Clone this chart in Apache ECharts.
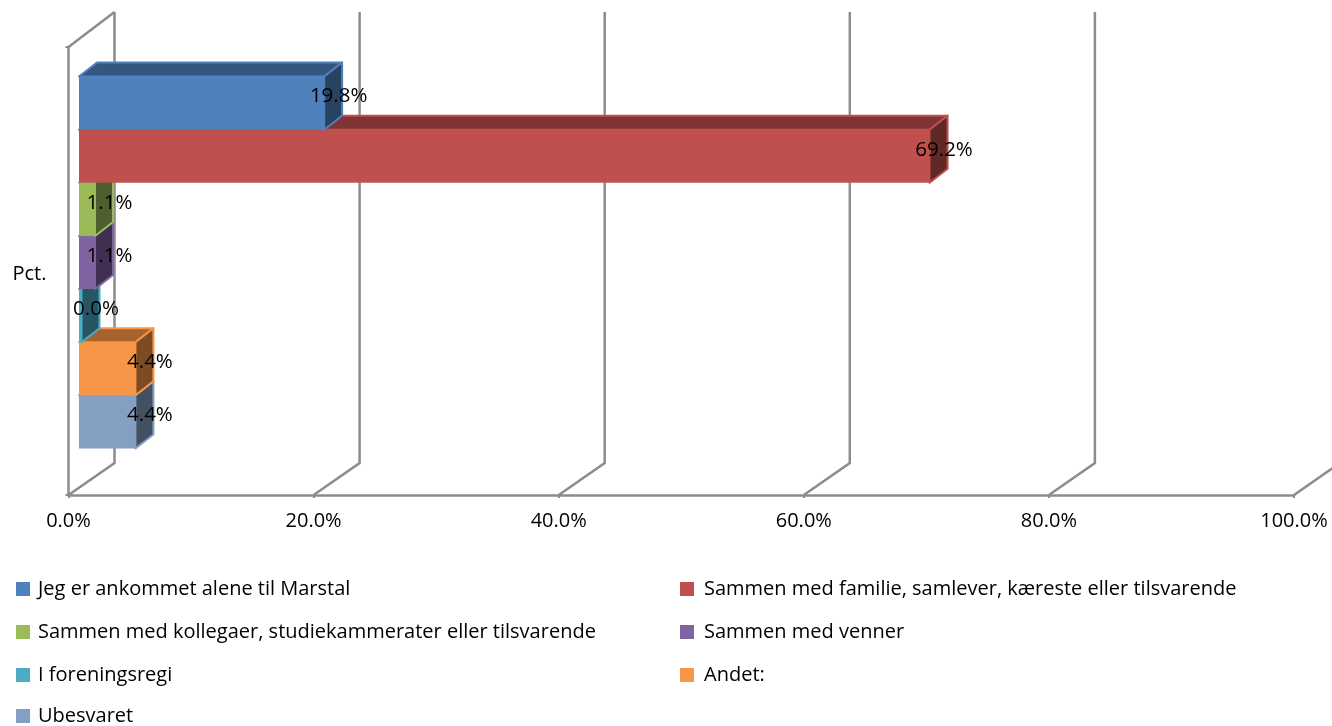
<!DOCTYPE html>
<html>
<head>
<meta charset="utf-8">
<title>Pct.</title>
<script src="https://cdn.jsdelivr.net/npm/echarts@6/dist/echarts.min.js"></script>
<style>
html,body{margin:0;padding:0;background:#fff}
#main{width:1332px;height:726px}
</style>
</head>
<body>
<div id="main"></div>
<script>
const categories = ['Pct.'];
const seriesNames = [
    'Jeg er ankommet alene til Marstal',
    'Sammen med familie, samlever, kæreste eller tilsvarende',
    'Sammen med kollegaer, studiekammerater eller tilsvarende',
    'Sammen med venner',
    'I foreningsregi',
    'Andet:',
    'Ubesvaret'
];
const seriesValues = [19.8, 69.2, 1.1, 1.1, 0.0, 4.4, 4.4];
const xTicks = [0, 20, 40, 60, 80, 100];

const frontColors = ['#4f81bd', '#c0504d', '#9bbb59', '#8064a2', '#4bacc6', '#f79646', '#849fc1'];
const topColors = ['#35577f', '#7f3533', '#677c3b', '#55426c', '#326f83', '#a5632e', '#586a81'];
const sideColors = ['#284360', '#602826', '#4e5e2d', '#402f52', '#265663', '#7c4b23', '#435061'];

const FONT = '"Open Sans"';
const GRID_COLOR = '#8c8c8c';

// 3d offsets of the walls and of the bars
const wallDx = 46, wallDyBottom = 32, wallDyTop = 35;
const barDx = 18, barDy = 14;

const legendPos = [
    [16, 579], [680, 579],
    [16, 622], [680, 622],
    [16, 665], [680, 665],
    [16, 706]
];

function renderWall(params, api) {
    const x = api.coord([api.value(0), 0])[0];
    const box = params.coordSys;
    const yb = box.y + box.height;
    const children = [{
        type: 'polyline',
        shape: {points: [[x, yb], [x + wallDx, yb - wallDyBottom], [x + wallDx, box.y - wallDyTop]]},
        style: {stroke: GRID_COLOR, lineWidth: 2.5, fill: null}
    }];
    if (api.value(0) === 0) {
        children.push({
            type: 'line',
            shape: {x1: x, y1: box.y, x2: x + wallDx, y2: box.y - wallDyTop},
            style: {stroke: GRID_COLOR, lineWidth: 2.5}
        });
    }
    return {type: 'group', children: children};
}

// front left of a bar sits inside the box, one series per bar in the single category
function barBox(idx, v, api) {
    const p = api.coord([v, 0]);
    const zero = api.coord([0, 0]);
    const h = api.size([0, 1])[1] * 0.1186;
    return {
        x0: zero[0] + 10.5,
        x1: p[0] + 13,
        y0: p[1] - 8.5 + (idx - 3.5) * h,
        h: h
    };
}

function renderBar(idx) {
    return function (params, api) {
        const b = barBox(idx, api.value(0), api);
        const y1 = b.y0 + b.h;
        const edge = {stroke: frontColors[idx], lineWidth: 2, lineJoin: 'round'};
        return {
            type: 'group',
            children: [
                {type: 'polygon', shape: {points: [[b.x0, b.y0], [b.x0 + barDx, b.y0 - barDy], [b.x1 + barDx, b.y0 - barDy], [b.x1, b.y0]]},
                    style: Object.assign({fill: topColors[idx]}, edge)},
                {type: 'polygon', shape: {points: [[b.x1, b.y0], [b.x1 + barDx, b.y0 - barDy], [b.x1 + barDx, y1 - barDy], [b.x1, y1]]},
                    style: Object.assign({fill: sideColors[idx]}, edge)},
                {type: 'rect', shape: {x: b.x0, y: b.y0, width: b.x1 - b.x0, height: b.h},
                    style: {fill: frontColors[idx]}}
            ]
        };
    };
}

function renderLabel(params, api) {
    const idx = params.dataIndex;
    const v = api.value(0);
    const b = barBox(idx, v, api);
    return {
        type: 'text',
        style: {
            text: v.toFixed(1) + '%',
            x: b.x1 + 14.5,
            y: b.y0 + b.h / 2 - 6.5,
            fill: '#000',
            font: '20.5px ' + FONT,
            align: 'center',
            verticalAlign: 'middle'
        }
    };
}

const series = [{
    name: 'walls',
    type: 'custom',
    z: 1,
    silent: true,
    renderItem: renderWall,
    data: xTicks.map(t => [t, 0]),
    encode: {x: 0, y: 1}
}];
// lower bars are painted first, the upper ones lie over them
seriesNames.forEach((name, i) => {
    series.push({
        name: name,
        type: 'custom',
        z: 2 + seriesNames.length - i,
        renderItem: renderBar(i),
        itemStyle: {color: frontColors[i]},
        data: [[seriesValues[i], 0]],
        encode: {x: 0, y: 1}
    });
});
series.push({
    name: 'labels',
    type: 'custom',
    z: 20,
    silent: true,
    renderItem: renderLabel,
    data: seriesValues.map(v => [v, 0]),
    encode: {x: 0, y: 1}
});

const option = {
    animation: false,
    textStyle: {fontFamily: FONT},
    grid: {left: 68.5, right: 38, top: 47, height: 448, containLabel: false},
    xAxis: {
        type: 'value',
        min: 0,
        max: 100,
        interval: 20,
        splitLine: {show: false},
        axisLine: {show: true, lineStyle: {color: GRID_COLOR, width: 2.5}},
        axisTick: {show: true, length: 3, lineStyle: {color: GRID_COLOR, width: 2}},
        axisLabel: {
            color: '#000',
            fontFamily: FONT,
            fontSize: 20,
            margin: 16,
            showMinLabel: true,
            showMaxLabel: true,
            formatter: v => v.toFixed(1) + '%'
        }
    },
    yAxis: {
        type: 'category',
        data: categories,
        axisLine: {show: true, lineStyle: {color: GRID_COLOR, width: 2.5}},
        axisTick: {show: true, length: 3, lineStyle: {color: GRID_COLOR, width: 2}},
        axisLabel: {
            margin: 22,
            formatter: v => '{a|' + v + '}',
            rich: {a: {color: '#000', fontFamily: FONT, fontSize: 20, padding: [6, 0, 0, 0]}}
        }
    },
    legend: seriesNames.map((name, i) => ({
        data: [name],
        left: legendPos[i][0],
        top: legendPos[i][1],
        padding: 0,
        icon: 'rect',
        itemWidth: 14,
        itemHeight: 14,
        selectedMode: false,
        textStyle: {color: '#000', fontFamily: FONT, fontSize: 20, padding: [0, 0, 0, i % 2 ? 5 : 3]}
    })),
    series: series
};

const myChart = echarts.init(document.getElementById('main'));
myChart.setOption(option);
</script>
</body>
</html>
